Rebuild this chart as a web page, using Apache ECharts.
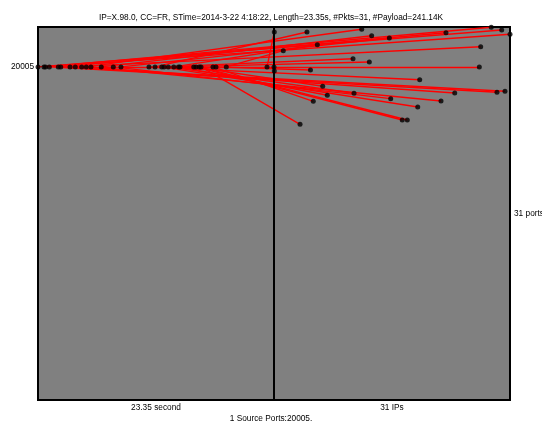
<!DOCTYPE html>
<html>
<head>
<meta charset="utf-8">
<script src="https://cdn.jsdelivr.net/npm/echarts@6/dist/echarts.min.js"></script>
<style>
html,body{margin:0;padding:0;background:#fff;}
#c{width:542px;height:423px;}
</style>
</head>
<body>
<div id="c"></div>
<script>
// ---- data ----
var titleText = 'IP=X.98.0, CC=FR, STime=2014-3-22 4:18:22, Length=23.35s, #Pkts=31, #Payload=241.14K';
var footText = '1 Source Ports:20005.';
var duration = 23.35;          // seconds
var ipCount = 31;
var srcPort = 20005;
var xLabels = ['23.35 second', '31 IPs'];
var yRightLabel = '31 ports';

// packet send times (s), in order
var times = [0.00, 0.59, 0.74, 1.12, 2.01, 2.25, 3.17, 3.69, 4.32, 4.78, 5.24, 6.26, 7.45, 8.21, 10.98,
             11.58, 12.24, 12.47, 12.89, 13.43, 13.90, 14.05, 15.41, 15.63, 15.96, 16.13, 17.31, 17.61,
             18.63, 22.66, 23.35];
// destination IP position (0..31) per packet
var dstIp = [29.91, 28.54, 31.00, 29.29, 30.34, 22.59, 27.15, 26.97, 23.74, 11.52, 21.94, 12.83, 15.33,
             15.15, 19.14, 4.33, 18.88, 10.38, 10.51, 5.69, 12.52, 7.00, 6.40, 16.85, 17.51, 3.42, 5.16,
             4.79, 1.22, 0.04, 0.04];
// destination port per packet
var dstPort = [59980, 65000, 52760, 9400, 9690, 55340, 36490, 19950, 9210, 61230, 7260, 50600, 7780,
               47300, 13680, 56490, 6080, 25540, 9125, 38730, 23170, 8610, 11240, 4128, 4128, 3631, 7195,
               18250, 32420, 56490, 17710];

// ---- build ----
var leftPts = times.map(function (t) { return [t / duration, srcPort]; });
var rightPts = dstIp.map(function (ip, i) { return [1 + ip / ipCount, dstPort[i]]; });
var linkData = times.map(function (t, i) { return { coords: [leftPts[i], rightPts[i]] }; });

var font = 'Liberation Sans, Arial, sans-serif';
var chart = echarts.init(document.getElementById('c'), null, { renderer: 'canvas' });
chart.setOption({
  animation: false,
  backgroundColor: '#ffffff',
  title: [
    { text: titleText, left: 'center', top: 9,
      textStyle: { fontSize: 8.3, fontWeight: 'normal', color: '#000', fontFamily: font } },
    { text: footText, left: 'center', top: 410,
      textStyle: { fontSize: 8.3, fontWeight: 'normal', color: '#000', fontFamily: font } }
  ],
  grid: { left: 38, right: 32, top: 27, bottom: 23, show: true, containLabel: false,
          outerBoundsMode: 'none',
          backgroundColor: '#808080', borderColor: '#000', borderWidth: 2 },
  xAxis: {
    type: 'value', min: 0, max: 2,
    axisLine: { show: false }, axisTick: { show: false }, splitLine: { show: false },
    axisLabel: {
      customValues: [0.5, 1.5], margin: 4, fontSize: 8.3, color: '#000', fontFamily: font,
      formatter: function (v) { return v < 1 ? xLabels[0] : xLabels[1]; }
    }
  },
  yAxis: [
    {
      type: 'log', logBase: 10, min: 1, max: 65536,
      axisLine: { show: false }, axisTick: { show: false }, splitLine: { show: false },
      axisLabel: { customValues: [srcPort], margin: 4, fontSize: 8.3, color: '#000', fontFamily: font,
                   formatter: function () { return String(srcPort); } }
    },
    {
      type: 'value', min: 0, max: 1, position: 'right',
      axisLine: { show: false }, axisTick: { show: false }, splitLine: { show: false },
      axisLabel: { show: false },
      name: yRightLabel, nameLocation: 'middle', nameRotate: 0, nameGap: 4,
      nameTextStyle: { fontSize: 8.3, color: '#000', fontFamily: font, align: 'left', verticalAlign: 'middle' }
    }
  ],
  series: [
    {
      type: 'lines', coordinateSystem: 'cartesian2d', xAxisIndex: 0, yAxisIndex: 0,
      data: linkData, silent: true, z: 2,
      lineStyle: { color: '#ff0000', width: 1.4, opacity: 1 }
    },
    {
      type: 'scatter', data: leftPts, symbolSize: 5, clip: false, z: 4,
      itemStyle: { color: '#000' },
      markLine: { silent: true, symbol: 'none', label: { show: false },
                  lineStyle: { color: '#000', width: 2, type: 'solid' },
                  data: [{ xAxis: 1 }] }
    },
    {
      type: 'scatter', data: rightPts, symbolSize: 5, clip: false, z: 4,
      itemStyle: { color: '#000' }
    }
  ]
});
</script>
</body>
</html>
